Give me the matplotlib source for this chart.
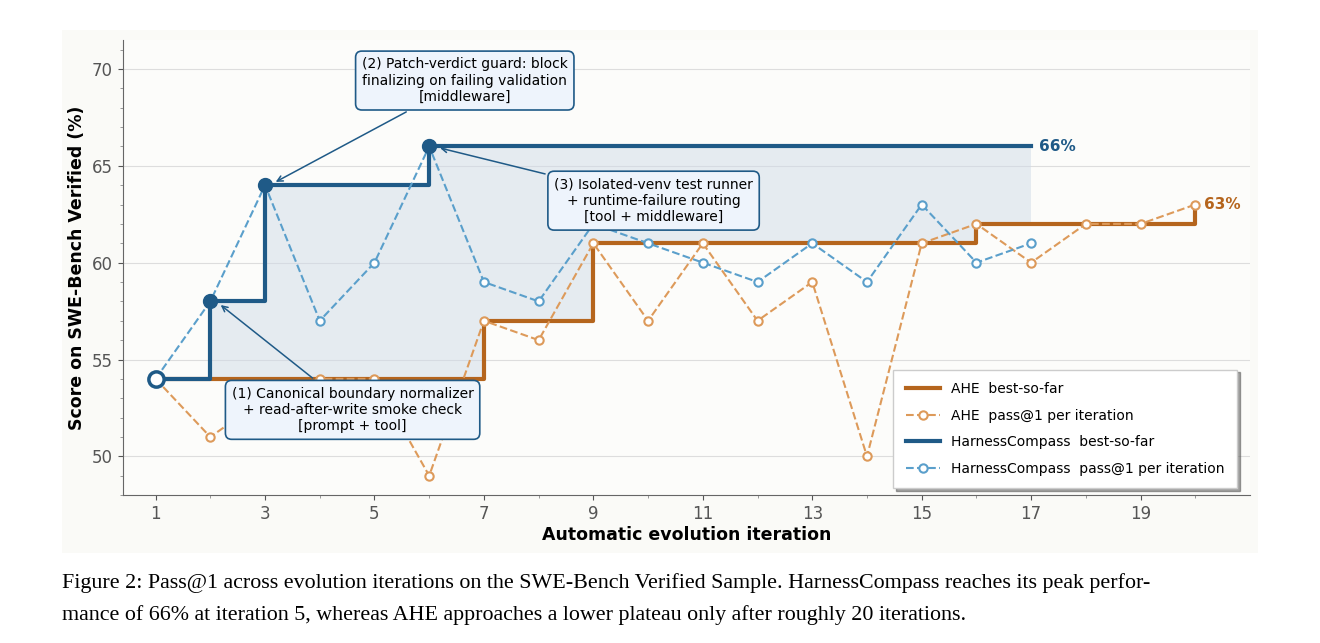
import numpy as np
import matplotlib.pyplot as plt
from matplotlib.patches import Rectangle

iters = np.arange(1, 21)
ahe_pass = [54, 51, 53, 54, 54, 49, 57, 56, 61, 57, 61, 57, 59, 50, 61, 62, 60, 62, 62, 63]
hc_iters = np.arange(1, 18)
hc_pass = [54, 58, 64, 57, 60, 66, 59, 58, 62, 61, 60, 59, 61, 59, 63, 60, 61]

ahe_best = np.maximum.accumulate(ahe_pass)
hc_best = np.maximum.accumulate(hc_pass)

orange = '#b5651d'
orange_l = '#dd9a5a'
blue = '#1f5a87'
blue_l = '#5a9fcb'

fig = plt.figure(figsize=(13.2, 6.43), dpi=100)
fig.patches.append(Rectangle((0.047, 0.14), 0.906, 0.813, transform=fig.transFigure,
                             facecolor='#fafaf7', edgecolor='none', zorder=-1))
ax = fig.add_axes([0.093, 0.23, 0.854, 0.708])
ax.set_facecolor('#fcfcfa')

ax.fill_between(hc_iters, ahe_best[:17], hc_best, step='post', color='#d0dbe7', alpha=0.5, lw=0)
ax.step(iters, ahe_best, where='post', color=orange, lw=3, label='AHE  best-so-far')
ax.plot(iters, ahe_pass, '--o', color=orange_l, lw=1.5, ms=6, mfc='white', mew=1.5,
        label='AHE  pass@1 per iteration')
ax.step(hc_iters, hc_best, where='post', color=blue, lw=3, label='HarnessCompass  best-so-far')
ax.plot(hc_iters, hc_pass, '--o', color=blue_l, lw=1.5, ms=6, mfc='white', mew=1.5,
        label='HarnessCompass  pass@1 per iteration')

# improvement points
for x in [2, 3, 6]:
    ax.plot(x, hc_pass[x - 1], 'o', color=blue, ms=10, zorder=5)
ax.plot(1, 54, 'o', color=blue, ms=11, mfc='white', mew=2.5, zorder=5)

ax.text(17.15, 66, '66%', color=blue, fontsize=11, fontweight='bold', va='center')
ax.text(20.15, 63, '63%', color=orange, fontsize=11, fontweight='bold', va='center')

box = dict(boxstyle='round,pad=0.45', fc='#eef4fc', ec=blue, lw=1.2, zorder=6)
arr = dict(arrowstyle='->', color=blue, lw=1.1)
ax.annotate('(1) Canonical boundary normalizer\n+ read-after-write smoke check\n[prompt + tool]',
            xy=(2.15, 57.9), xytext=(4.6, 52.4), ha='center', va='center', fontsize=10,
            bbox=box, arrowprops=arr, zorder=6)
ax.annotate('(2) Patch-verdict guard: block\nfinalizing on failing validation\n[middleware]',
            xy=(3.15, 64.1), xytext=(6.65, 69.4), ha='center', va='center', fontsize=10,
            bbox=box, arrowprops=arr, zorder=6)
ax.annotate('(3) Isolated-venv test runner\n+ runtime-failure routing\n[tool + middleware]',
            xy=(6.15, 65.95), xytext=(10.1, 63.2), ha='center', va='center', fontsize=10,
            bbox=box, arrowprops=arr, zorder=6)

ax.set_xlim(0.4, 21.0)
ax.set_ylim(48.0, 71.5)
ax.set_xticks(range(1, 20, 2))
ax.set_yticks([50, 55, 60, 65, 70])
ax.set_xticks(range(1, 21), minor=True)
ax.set_yticks(np.arange(48, 72, 1), minor=True)
ax.tick_params(labelsize=12, colors='#555555')
ax.tick_params(which='minor', length=2, colors='#888888')
ax.grid(axis='y', color='#dddddd', lw=0.8)
ax.set_axisbelow(True)
for s in ['top', 'right']:
    ax.spines[s].set_visible(False)
for s in ['left', 'bottom']:
    ax.spines[s].set_color('#666666')
ax.set_xlabel('Automatic evolution iteration', fontsize=12.5, fontweight='bold', labelpad=2)
ax.set_ylabel('Score on SWE-Bench Verified (%)', fontsize=12.5, fontweight='bold')

leg = ax.legend(loc='lower right', bbox_to_anchor=(0.995, 0.0), fontsize=10, frameon=True,
                fancybox=False, shadow=True, borderpad=0.9, labelspacing=0.9, handlelength=2.5)
leg.get_frame().set_edgecolor('#cccccc')

fig.text(0.047, 0.085, 'Figure 2: Pass@1 across evolution iterations on the SWE-Bench Verified Sample. '
         'HarnessCompass reaches its peak perfor-', family='Liberation Serif', fontsize=15.8)
fig.text(0.047, 0.035, 'mance of 66% at iteration 5, whereas AHE approaches a lower plateau only after '
         'roughly 20 iterations.', family='Liberation Serif', fontsize=15.8)

fig.savefig('out.png', dpi=100)
